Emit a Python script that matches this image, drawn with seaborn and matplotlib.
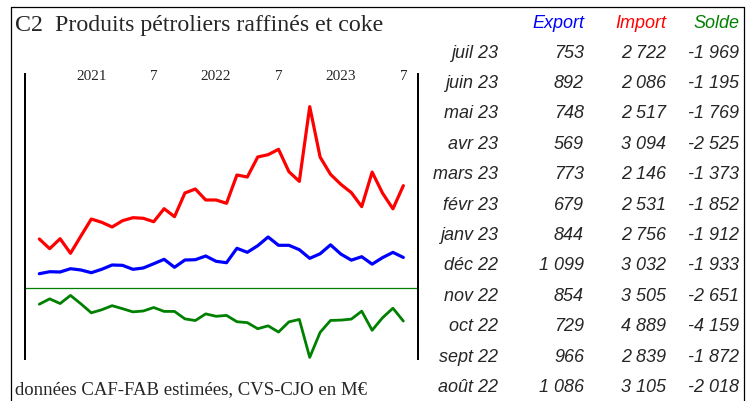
import pandas as pd
import matplotlib.pyplot as plt
import seaborn as sns
from matplotlib.lines import Line2D

# Données mensuelles août 2020 -> juillet 2023 (M€)
months = pd.period_range("2020-08", "2023-07", freq="M")
export = [307, 362, 354, 444, 409, 335, 428, 546, 537, 428, 464, 581,
          702, 483, 683, 691, 793, 647, 609, 1004, 894, 1075, 1314, 1086,
          1086, 966, 729, 854, 1099, 844, 679, 773, 569, 748, 892, 753]
imports = [1259, 993, 1267, 867, 1341, 1807, 1717, 1588, 1761, 1843, 1827, 1733,
           2090, 1871, 2521, 2630, 2329, 2329, 2238, 3014, 2959, 3508, 3571, 3719,
           3105, 2839, 4889, 3505, 3032, 2756, 2531, 2146, 3094, 2517, 2086, 2722]
solde = [-952, -631, -913, -423, -932, -1472, -1289, -1042, -1224, -1415, -1363, -1152,
         -1388, -1388, -1838, -1939, -1536, -1682, -1629, -2010, -2065, -2433, -2257, -2633,
         -2018, -1872, -4159, -2651, -1933, -1912, -1852, -1373, -2525, -1769, -1195, -1969]

# Étiquettes du tableau (du plus récent au plus ancien)
table_months = ["juil 23", "juin 23", "mai 23", "avr 23", "mars 23", "févr 23",
                "janv 23", "déc 22", "nov 22", "oct 22", "sept 22", "août 22"]
year_ticks = [5, 11, 17, 23, 29, 35]
year_labels = ["2021", "7", "2022", "7", "2023", "7"]

df = pd.DataFrame({"i": range(len(months)), "Export": export,
                   "Import": imports, "Solde": solde})

sns.set_style("white")
plt.rcParams["font.family"] = ["Liberation Serif", "DejaVu Serif"]

W, H = 749, 401
fig = plt.figure(figsize=(W / 100, H / 100), dpi=100)


def fx(px):
    return px / W


def fy(py):
    return 1 - py / H


# Cadre extérieur
for xs, ys in [([11, 744], [7, 7]), ([11, 11], [7, H]), ([744, 744], [7, H])]:
    fig.add_artist(Line2D([fx(x) for x in xs], [fy(y) for y in ys],
                          color="black", lw=0.9))

# Zone du graphique
ax = fig.add_axes([fx(25), fy(359), fx(418) - fx(25), fy(74) - fy(359)])
ax2 = ax.twinx()

sns.lineplot(data=df, x="i", y="Import", ax=ax, color="#ff0000", lw=2.3)
sns.lineplot(data=df, x="i", y="Export", ax=ax, color="#0000ff", lw=2.3)
sns.lineplot(data=df, x="i", y="Solde", ax=ax2, color="#008000", lw=2.0)
ax2.axhline(0, color="#008000", lw=0.9)

ax.set_xlim(-1.375, 36.41)
ax.set_ylim(-2032, 5784)
ax2.set_ylim(-4258, 12931)

for a in (ax, ax2):
    a.set_xticks([])
    a.set_yticks([])
    a.set_xlabel("")
    a.set_ylabel("")
    a.patch.set_visible(False)
    for s in ("top", "bottom"):
        a.spines[s].set_visible(False)
    for s in ("left", "right"):
        a.spines[s].set_color("black")
        a.spines[s].set_linewidth(1.3)

for x, lab in zip(year_ticks, year_labels):
    ax.text(x, 0.99, lab, transform=ax.get_xaxis_transform(),
            ha="center", va="center", fontsize=11)

# Titre et source
fig.text(fx(15), fy(31.5), "C2  Produits pétroliers raffinés et coke",
         fontsize=17.2, va="baseline", ha="left")
fig.text(fx(15), fy(394), "données CAF-FAB estimées, CVS-CJO en M€",
         fontsize=13.5, va="baseline", ha="left")

# Tableau
tab = dict(family=["Liberation Sans", "DejaVu Sans"], style="italic",
           fontsize=13, va="center", ha="right")


def fmt(v):
    return f"{v:,}".replace(",", " ")


fig.text(fx(584), fy(23), "Export", color="#0000ff", **tab)
fig.text(fx(666), fy(23), "Import", color="#ff0000", **tab)
fig.text(fx(739), fy(23), "Solde", color="#008000", **tab)

for k, lab in enumerate(table_months):
    j = len(months) - 1 - k
    y = fy(53 + k * 30.4)
    fig.text(fx(498), y, lab, **tab)
    fig.text(fx(584), y, fmt(export[j]), **tab)
    fig.text(fx(666), y, fmt(imports[j]), **tab)
    fig.text(fx(739), y, fmt(solde[j]), **tab)

fig.savefig("out.png", dpi=100)
